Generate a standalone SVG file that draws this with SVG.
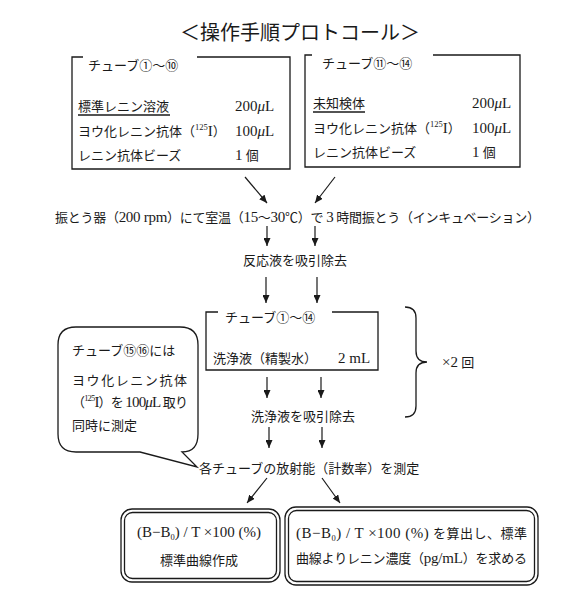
<svg xmlns="http://www.w3.org/2000/svg" width="567" height="600" viewBox="0 0 567 600">
<defs>
<style>
text{font-family:"Liberation Serif","Noto Sans CJK JP",serif;font-size:13px;fill:#1a1a1a}
.t{font-size:20px}
.n{font-size:15px}
.ln{fill:none;stroke:#1a1a1a;stroke-width:1.3}
.ar{fill:none;stroke:#1a1a1a;stroke-width:1.2;marker-end:url(#ah)}
.sup{font-size:8.5px}
.it{font-style:italic}
</style>
<marker id="ah" markerUnits="userSpaceOnUse" markerWidth="9" markerHeight="7" refX="8" refY="3.5" orient="auto">
<path d="M0,0 L8,3.5 L0,7 z" fill="#1a1a1a"/>
</marker>
</defs>
<rect width="567" height="600" fill="#fff"/>

<g id="title"><text class="t" x="300" y="40" text-anchor="middle">＜操作手順プロトコール＞</text></g>

<g id="box1">
<path class="ln" d="M83,57 H72 V169 H290 V57 H197"/>
<text x="88" y="70">チューブ①〜⑩</text>
<text x="78" y="111">標準レニン溶液</text>
<line class="ln" x1="78" y1="115" x2="170" y2="115" stroke-width="1"/>
<text class="n" x="235" y="111">200<tspan class="it">μ</tspan>L</text>
<text x="78" y="136">ヨウ化レニン抗体（<tspan class="sup" dy="-6">125</tspan><tspan class="n" dy="6">I</tspan>）</text>
<text class="n" x="235" y="136">100<tspan class="it">μ</tspan>L</text>
<text x="78" y="160">レニン抗体ビーズ</text>
<text x="235" y="160"><tspan class="n">1</tspan> 個</text>
</g>

<g id="box2">
<path class="ln" d="M312,55 H305 V167 H520 V55 H433"/>
<text x="322" y="68">チューブ⑪〜⑭</text>
<text x="313" y="108">未知検体</text>
<line class="ln" x1="313" y1="112" x2="365" y2="112" stroke-width="1"/>
<text class="n" x="472" y="108">200<tspan class="it">μ</tspan>L</text>
<text x="313" y="133">ヨウ化レニン抗体（<tspan class="sup" dy="-6">125</tspan><tspan class="n" dy="6">I</tspan>）</text>
<text class="n" x="472" y="133">100<tspan class="it">μ</tspan>L</text>
<text x="313" y="157">レニン抗体ビーズ</text>
<text x="472" y="157"><tspan class="n">1</tspan> 個</text>
</g>

<g id="incubate"><text x="55" y="222" textLength="485" lengthAdjust="spacing">振とう器（<tspan class="n">200 rpm</tspan>）にて室温（<tspan class="n">15</tspan>〜<tspan class="n">30</tspan>℃）で <tspan class="n">3</tspan> 時間振とう（インキュベーション）</text></g>

<g id="aspirate1"><text x="295" y="265" text-anchor="middle">反応液を吸引除去</text></g>

<g id="box3">
<path class="ln" d="M218,312 H206 V370 H378 V312 H332"/>
<text x="225" y="322">チューブ①〜⑭</text>
<text x="213" y="363">洗浄液（精製水）</text>
<text class="n" x="338" y="363">2 mL</text>
</g>

<g id="aspirate2"><text x="303" y="421" text-anchor="middle">洗浄液を吸引除去</text></g>

<g id="repeat">
<path class="ln" d="M405,307 Q416,307 416,318 V351 Q416,362 427,362 Q416,362 416,373 V406 Q416,417 405,417"/>
<text x="442" y="367"><tspan class="n">×2</tspan> 回</text>
</g>

<g id="callout">
<path class="ln" d="M76,327 H180 Q198,327 198,345 V434 Q198,452 182,452 L197,467 L140,452 H76 Q58,452 58,434 V345 Q58,327 76,327 Z"/>
<text x="72" y="355">チューブ⑮⑯には</text>
<text x="72" y="385" textLength="115" lengthAdjust="spacing">ヨウ化レニン抗体</text>
<text x="72" y="407" textLength="116" lengthAdjust="spacing">（<tspan class="sup" dy="-6">125</tspan><tspan class="n" dy="6">I</tspan>）を <tspan class="n">100<tspan class="it">μ</tspan>L</tspan> 取り</text>
<text x="72" y="430">同時に測定</text>
</g>

<g id="measure"><text x="199" y="473">各チューブの放射能（計数率）を測定</text></g>

<g id="result1">
<rect class="ln" x="121" y="509" width="159" height="73" rx="11"/>
<rect class="ln" x="124.5" y="512.5" width="152" height="66" rx="8"/>
<text class="n" x="199" y="537" text-anchor="middle">(B−B<tspan class="sup" dy="3" font-size="10">0</tspan><tspan dy="-3">) / T ×100 (%)</tspan></text>
<text x="199" y="565" text-anchor="middle">標準曲線作成</text>
</g>

<g id="result2">
<rect class="ln" x="285" y="507" width="253" height="78" rx="11"/>
<rect class="ln" x="288.5" y="510.5" width="246" height="71" rx="8"/>
<text x="296" y="538" textLength="231" lengthAdjust="spacing"><tspan class="n">(B−B</tspan><tspan class="sup" dy="3" font-size="10">0</tspan><tspan class="n" dy="-3">) / T ×100 (%)</tspan> を算出し、標準</text>
<text x="296" y="563" textLength="231" lengthAdjust="spacing">曲線よりレニン濃度（<tspan class="n">pg/mL</tspan>）を求める</text>
</g>

<g id="connectors">
<line class="ar" x1="245" y1="177" x2="267" y2="203"/>
<line class="ar" x1="335" y1="177" x2="315" y2="203"/>
<line class="ar" x1="267" y1="226" x2="267" y2="246"/>
<line class="ar" x1="315" y1="226" x2="315" y2="246"/>
<line class="ar" x1="266" y1="277" x2="266" y2="303"/>
<line class="ar" x1="317" y1="277" x2="317" y2="303"/>
<line class="ar" x1="267" y1="377" x2="267" y2="398"/>
<line class="ar" x1="321" y1="377" x2="321" y2="398"/>
<line class="ar" x1="269" y1="427" x2="269" y2="448"/>
<line class="ar" x1="322" y1="427" x2="322" y2="448"/>
<line class="ar" x1="267" y1="478" x2="247" y2="503"/>
<line class="ar" x1="322" y1="478" x2="340" y2="503"/>
</g>
</svg>
